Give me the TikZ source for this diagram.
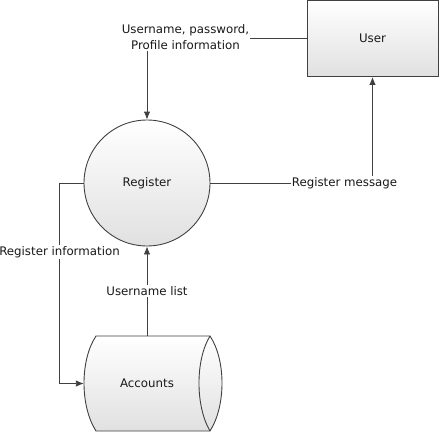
\documentclass[tikz,border=0pt]{standalone}
\usepackage{fontspec}
\setmainfont{DejaVu Sans}
\usetikzlibrary{arrows.meta}
\definecolor{edge}{HTML}{404040}
\tikzset{
  every node/.style={font=\fontsize{11.8}{16}\selectfont, text=black!90},
  ent/.style={draw=edge, line width=0.9pt, top color=white, bottom color=black!12},
  flow/.style={draw=edge, line width=0.9pt},
  tip/.style={-{Latex[length=8pt, width=6.5pt]}},
  lbl/.style={inner sep=1pt, align=center}
}
\begin{document}
\begin{tikzpicture}[x=1pt, y=-1pt]
    \useasboundingbox (0,0) rectangle (441,434);
    % entities
    \node[ent, rectangle, minimum width=131pt, minimum height=76pt] (user) at (372.5,38.5) {User};
    \node[ent, circle, minimum size=126pt, inner sep=0pt] (reg) at (147,183) {Register};
    \shade[top color=white, bottom color=black!12, draw=edge, line width=0.9pt]
        (96,336) -- (210,336) .. controls (226,360) and (226,406) .. (210,431)
        -- (96,431) .. controls (80,406) and (80,360) .. (96,336) -- cycle;
    \draw[flow] (210,336) .. controls (195.3,360) and (195.3,406) .. (210,431);
    \node[minimum width=126pt, minimum height=95pt, inner sep=0pt] (acc) at (147,383.5) {Accounts};
    % labels
    \node[lbl] (cred) at (185.5,37) {Username, password,\\Profile information};
    \node[lbl, fill=white] (msg) at (344.5,183) {Register message};
    \node[lbl, fill=white] (info) at (59.5,252) {Register information};
    \node[lbl, fill=white] (lst) at (147,291) {Username list};
    % flows
    \draw[flow] (user.west) -- (user.west -| cred.east);
    \draw[flow, tip] (reg.north |- cred.south) -- (reg.north);
    \draw[flow] (reg.east) -- (msg.west);
    \draw[flow, tip] (user.south |- msg.north) -- (user.south);
    \draw[flow] (reg.west) -| (info.north);
    \draw[flow, tip] (info.south) |- (acc.west);
    \draw[flow] (acc.north) -- (lst.south);
    \draw[flow, tip] (lst.north) -- (reg.south);
\end{tikzpicture}
\end{document}
